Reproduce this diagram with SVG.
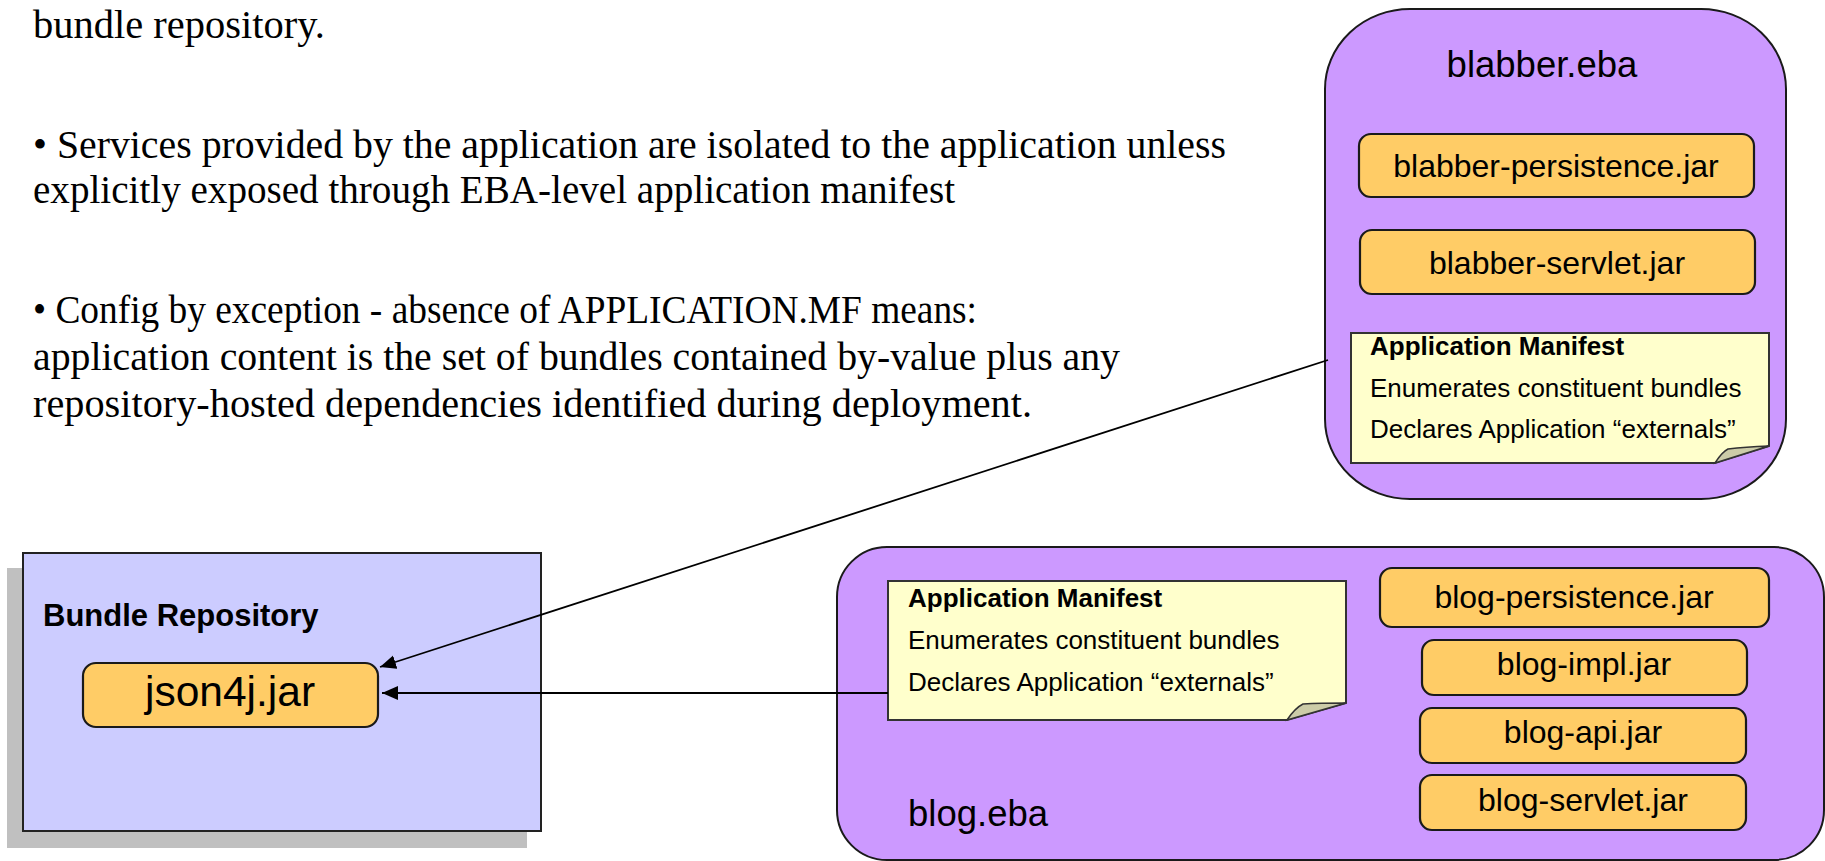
<svg xmlns="http://www.w3.org/2000/svg" width="1825" height="861" viewBox="0 0 1825 861">
  <defs>
    <marker id="arrowhead" markerUnits="userSpaceOnUse" markerWidth="18" markerHeight="16" refX="16" refY="7" orient="auto">
      <path d="M0,0 L16,7 L0,14 Z" fill="#000"/>
    </marker>
  </defs>
  <style>
    .body { font-family: "Liberation Serif", "Times New Roman", serif; font-size: 39px; fill: #000; }
    .eba { fill: #CC99FF; stroke: #1a1a1a; stroke-width: 2; }
    .jar { fill: #FFCC66; stroke: #1a1a1a; stroke-width: 2.2; }
    .jar-label { font-family: "Liberation Sans", Arial, sans-serif; font-size: 32px; fill: #000; text-anchor: middle; }
    .note { fill: #FFFFCC; stroke: #333; stroke-width: 2; }
    .fold { fill: #CCCCA8; stroke: #333; stroke-width: 1.5; }
    .note-title { font-family: "Liberation Sans", Arial, sans-serif; font-size: 26px; font-weight: bold; fill: #000; }
    .note-text { font-family: "Liberation Sans", Arial, sans-serif; font-size: 26px; fill: #000; }
    .eba-label { font-family: "Liberation Sans", Arial, sans-serif; font-size: 36.5px; fill: #000; }
    .repo { fill: #CCCCFF; stroke: #222; stroke-width: 2; }
    .shadow { fill: #C0C0C0; }
    .link { stroke: #000; stroke-width: 1.8; fill: none; marker-end: url(#arrowhead); }
  </style>

  <rect width="1825" height="861" fill="#fff"/>

  <!-- Explanatory text -->
  <g id="notes-text">
    <text class="body" x="33" y="38" textLength="292" lengthAdjust="spacingAndGlyphs">bundle repository.</text>
    <text class="body" x="33" y="158" textLength="1193" lengthAdjust="spacingAndGlyphs">• Services provided by the application are isolated to the application unless</text>
    <text class="body" x="33" y="203" textLength="922" lengthAdjust="spacingAndGlyphs">explicitly exposed through EBA-level application manifest</text>
    <text class="body" x="33" y="323" textLength="944" lengthAdjust="spacingAndGlyphs">• Config by exception - absence of APPLICATION.MF means:</text>
    <text class="body" x="33" y="370" textLength="1087" lengthAdjust="spacingAndGlyphs">application content is the set of bundles contained by-value plus any</text>
    <text class="body" x="33" y="417" textLength="999" lengthAdjust="spacingAndGlyphs">repository-hosted dependencies identified during deployment.</text>
  </g>

  <!-- Bundle repository -->
  <g id="bundle-repository">
    <rect class="shadow" x="7" y="568" width="520" height="280"/>
    <rect class="repo" x="23" y="553" width="518" height="278"/>
    <text x="43" y="626" font-family="Liberation Sans, Arial, sans-serif" font-size="31" font-weight="bold">Bundle Repository</text>
  </g>
  <g id="json4j-jar">
    <rect class="jar" x="83" y="663" width="295" height="64" rx="13"/>
    <text x="230" y="706" font-family="Liberation Sans, Arial, sans-serif" font-size="42.5" text-anchor="middle">json4j.jar</text>
  </g>

  <!-- blabber.eba -->
  <g id="blabber-eba">
    <rect class="eba" x="1325" y="9" width="461" height="490" rx="85" ry="80"/>
    <text class="eba-label" x="1542" y="77" text-anchor="middle">blabber.eba</text>
  </g>
  <g id="blabber-persistence-jar">
    <rect class="jar" x="1359" y="134" width="395" height="63" rx="12"/>
    <text class="jar-label" x="1556" y="177">blabber-persistence.jar</text>
  </g>
  <g id="blabber-servlet-jar">
    <rect class="jar" x="1360" y="230" width="395" height="64" rx="12"/>
    <text class="jar-label" x="1557" y="274">blabber-servlet.jar</text>
  </g>
  <g id="blabber-manifest">
    <path class="note" d="M1351,333 L1769,333 L1769,446 L1715,463 L1351,463 Z"/>
    <path class="fold" d="M1715,463 Q1722,452 1728,449 Q1745,447 1769,446 Z"/>
    <text class="note-title" x="1370" y="355">Application Manifest</text>
    <text class="note-text" x="1370" y="397">Enumerates constituent bundles</text>
    <text class="note-text" x="1370" y="438">Declares Application “externals”</text>
  </g>

  <!-- blog.eba -->
  <g id="blog-eba">
    <rect class="eba" x="837" y="547" width="987" height="313" rx="50" ry="50"/>
    <text class="eba-label" x="908" y="826">blog.eba</text>
  </g>
  <g id="blog-manifest">
    <path class="note" d="M888,581 L1346,581 L1346,703 L1287,720 L888,720 Z"/>
    <path class="fold" d="M1287,720 Q1295,708 1303,704 Q1320,703 1346,703 Z"/>
    <text class="note-title" x="908" y="607">Application Manifest</text>
    <text class="note-text" x="908" y="649">Enumerates constituent bundles</text>
    <text class="note-text" x="908" y="691">Declares Application “externals”</text>
  </g>
  <g id="blog-persistence-jar">
    <rect class="jar" x="1380" y="568" width="389" height="59" rx="12"/>
    <text class="jar-label" x="1574" y="608">blog-persistence.jar</text>
  </g>
  <g id="blog-impl-jar">
    <rect class="jar" x="1422" y="640" width="325" height="55" rx="12"/>
    <text class="jar-label" x="1584" y="675">blog-impl.jar</text>
  </g>
  <g id="blog-api-jar">
    <rect class="jar" x="1420" y="708" width="326" height="55" rx="12"/>
    <text class="jar-label" x="1583" y="743">blog-api.jar</text>
  </g>
  <g id="blog-servlet-jar">
    <rect class="jar" x="1420" y="775" width="326" height="55" rx="12"/>
    <text class="jar-label" x="1583" y="811">blog-servlet.jar</text>
  </g>

  <!-- Dependency connectors -->
  <g id="connectors">
    <line class="link" x1="1328" y1="360" x2="380" y2="667"/>
    <line class="link" x1="888" y1="693" x2="382" y2="693"/>
  </g>
</svg>
